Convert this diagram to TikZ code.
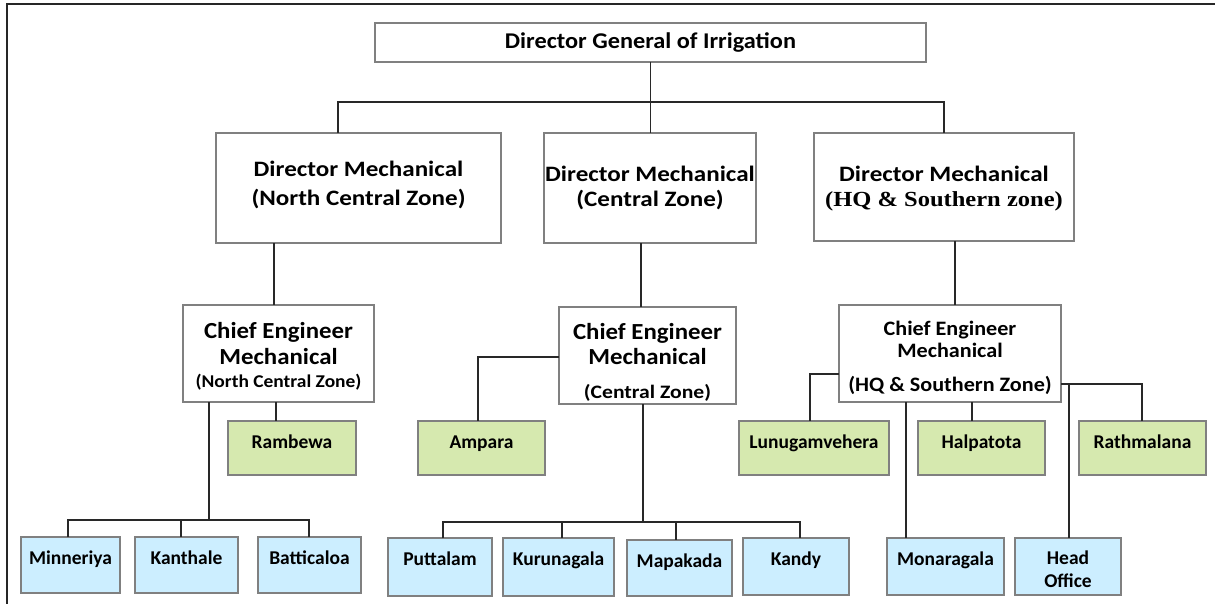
\documentclass[tikz,border=0pt]{standalone}
\usepackage{fontspec}
\setmainfont{Carlito}
\newfontfamily\calA[FakeStretch=1.08]{Carlito}
\newfontfamily\calB[FakeStretch=1.14]{Carlito}
\newfontfamily\serifb[FakeStretch=1.14]{Liberation Serif}
\definecolor{leafgreen}{RGB}{214,233,175}
\definecolor{leafblue}{RGB}{204,238,255}
\definecolor{boxgray}{RGB}{128,128,128}
\definecolor{linecol}{RGB}{40,40,40}
\tikzset{
  box/.style={draw=boxgray, line width=1.3pt, rectangle, inner sep=0pt, outer sep=0pt},
  whitebox/.style={box, fill=white},
  greenbox/.style={box, fill=leafgreen},
  bluebox/.style={box, fill=leafblue},
  txt/.style={anchor=base, inner sep=0pt, outer sep=0pt},
  fDG/.style={font=\calA\bfseries\fontsize{22.5}{26}\selectfont},
  fDir/.style={font=\calB\bfseries\fontsize{22}{26}\selectfont},
  fCE/.style={font=\calA\bfseries\fontsize{23}{26}\selectfont},
  fCEs/.style={font=\calA\bfseries\fontsize{18}{20}\selectfont},
  fCEc/.style={font=\calB\bfseries\fontsize{19}{22}\selectfont},
  fHQ/.style={font=\calA\bfseries\fontsize{20.5}{24}\selectfont},
  fLeaf/.style={font=\bfseries\fontsize{19.5}{22}\selectfont},
  conn/.style={draw=linecol, line width=1.1pt},
}
\newcommand\mkbox[6]{\node[#6, minimum width={(#4-#2)*1pt}, minimum height={(#5-#3)*1pt}] (#1) at ({(#2+#4)/2},{-(#3+#5)/2}) {};}
\begin{document}
\begin{tikzpicture}[x=1pt,y=1pt]
\useasboundingbox (0,0) rectangle (1215,-604);
\fill[white] (0,0) rectangle (1215,-604);
\draw[line width=2.2pt, black!85] (7,-604) -- (7,-4) -- (1215,-4);

% boxes
\mkbox{dg}{375}{23}{926}{62}{whitebox}
\mkbox{dnc}{216}{133}{501}{243}{whitebox}
\mkbox{dc}{544}{133}{756}{243}{whitebox}
\mkbox{dhq}{814}{133}{1074}{241}{whitebox}
\mkbox{cenc}{183}{305}{374}{402}{whitebox}
\mkbox{cec}{559}{307}{736}{404}{whitebox}
\mkbox{cehq}{839}{305}{1061}{402}{whitebox}
\mkbox{ramb}{228}{421}{356}{475}{greenbox}
\mkbox{amp}{418}{421}{545}{475}{greenbox}
\mkbox{lunu}{739}{421}{889}{475}{greenbox}
\mkbox{halp}{918}{421}{1045}{475}{greenbox}
\mkbox{rath}{1079}{421}{1206}{475}{greenbox}
\mkbox{minn}{21}{537}{120}{593}{bluebox}
\mkbox{kant}{135}{537}{238}{593}{bluebox}
\mkbox{batt}{258}{537}{361}{593}{bluebox}
\mkbox{putt}{388}{538}{492}{596}{bluebox}
\mkbox{kuru}{503}{538}{614}{596}{bluebox}
\mkbox{mapa}{627}{540}{732}{596}{bluebox}
\mkbox{kand}{743}{538}{849}{595}{bluebox}
\mkbox{mona}{887}{538}{1004}{595}{bluebox}
\mkbox{head}{1015}{538}{1121}{595}{bluebox}

% texts
\node[txt,fDG] (tdg) at (650.5,-49) {Director General of Irrigation};
\node[txt,fDir] (tdnc1) at (358.5,-177) {Director Mechanical};
\node[txt,fDir] (tdnc2) at (358.5,-206) {(North Central Zone)};
\node[txt,fDir] (tdc1) at (650,-182) {Director Mechanical};
\node[txt,fDir] (tdc2) at (650,-207) {(Central Zone)};
\node[txt,fDir] (tdhq1) at (944,-182) {Director Mechanical};
\node[txt,font=\serifb\bfseries\fontsize{21.5}{24}\selectfont] (tdhq2) at (944,-207) {(HQ \& Southern zone)};
\node[txt,fCE] (tcenc1) at (278.5,-338) {Chief Engineer};
\node[txt,fCE] (tcenc2) at (278.5,-364) {Mechanical};
\node[txt,fCEs] (tcenc3) at (278.5,-387) {(North Central Zone)};
\node[txt,fCE] (tcec1) at (647.5,-339) {Chief Engineer};
\node[txt,fCE] (tcec2) at (647.5,-364) {Mechanical};
\node[txt,fCEc] (tcec3) at (647.5,-398) {(Central Zone)};
\node[txt,fHQ] (tcehq1) at (950,-335) {Chief Engineer};
\node[txt,fHQ] (tcehq2) at (950,-357) {Mechanical};
\node[txt,fHQ] (tcehq3) at (950,-391) {(HQ \& Southern Zone)};
\node[txt,fLeaf] (tramb) at (292,-448) {Rambewa};
\node[txt,fLeaf] (tamp) at (481.5,-448) {Ampara};
\node[txt,fLeaf] (tlunu) at (814,-448) {Lunugamvehera};
\node[txt,fLeaf] (thalp) at (981.5,-448) {Halpatota};
\node[txt,fLeaf] (trath) at (1142.5,-448) {Rathmalana};
\node[txt,fLeaf] (tminn) at (70.5,-564) {Minneriya};
\node[txt,fLeaf] (tkant) at (186.5,-564) {Kanthale};
\node[txt,fLeaf] (tbatt) at (309.5,-564) {Batticaloa};
\node[txt,fLeaf] (tputt) at (440,-565) {Puttalam};
\node[txt,fLeaf] (tkuru) at (558.5,-565) {Kurunagala};
\node[txt,fLeaf] (tmapa) at (679.5,-567) {Mapakada};
\node[txt,fLeaf] (tkand) at (796,-565) {Kandy};
\node[txt,fLeaf] (tmona) at (945.5,-565) {Monaragala};
\node[txt,fLeaf] (thead1) at (1068,-564) {Head};
\node[txt,fLeaf] (thead2) at (1068,-587) {Office};

% junction coordinates
\coordinate (j0) at (650.5,-102);
\coordinate (jl) at (338,-102);
\coordinate (jr) at (944,-102);
\coordinate (v1) at (274,0);
\coordinate (v2) at (641,0);
\coordinate (v3) at (955,0);
\coordinate (vr) at (276,0);
\coordinate (nb) at (209,-520);
\coordinate (nbl) at (68,-520);
\coordinate (nbm) at (181,-520);
\coordinate (nbr) at (309,-520);
\coordinate (ca) at (478,-357);
\coordinate (cb) at (643,-522);
\coordinate (cb1) at (443,-522);
\coordinate (cb2) at (562,-522);
\coordinate (cb3) at (676,-522);
\coordinate (cb4) at (800,-522);
\coordinate (hl) at (810,-374);
\coordinate (hh) at (972,0);
\coordinate (hr) at (1142,-384);
\coordinate (ho) at (1069,-384);
\coordinate (hm) at (906,0);

% connectors
\draw[conn] (dg.south) -- (j0);
\draw[conn] (dnc.north -| jl) -- (jl) -- (jr) -- (dhq.north -| jr);
\draw[conn] (j0) -- (dc.north -| j0);
\draw[conn] (dnc.south -| v1) -- (cenc.north -| v1);
\draw[conn] (dc.south -| v2) -- (cec.north -| v2);
\draw[conn] (dhq.south -| v3) -- (cehq.north -| v3);
% north central
\draw[conn] (cenc.south -| vr) -- (ramb.north -| vr);
\draw[conn] (cenc.south -| nb) -- (nb);
\draw[conn] (minn.north -| nbl) -- (nbl) -- (nbr) -- (batt.north -| nbr);
\draw[conn] (nbm) -- (kant.north -| nbm);
% central
\draw[conn] (cec.west |- ca) -- (ca) -- (amp.north -| ca);
\draw[conn] (cec.south -| cb) -- (cb);
\draw[conn] (putt.north -| cb1) -- (cb1) -- (cb4) -- (kand.north -| cb4);
\draw[conn] (cb2) -- (kuru.north -| cb2);
\draw[conn] (cb3) -- (mapa.north -| cb3);
% HQ
\draw[conn] (cehq.west |- hl) -- (hl) -- (lunu.north -| hl);
\draw[conn] (cehq.south -| hh) -- (halp.north -| hh);
\draw[conn] (cehq.east |- hr) -- (hr) -- (rath.north -| hr);
\draw[conn] (ho) -- (head.north -| ho);
\draw[conn] (cehq.south -| hm) -- (mona.north -| hm);
\end{tikzpicture}
\end{document}
